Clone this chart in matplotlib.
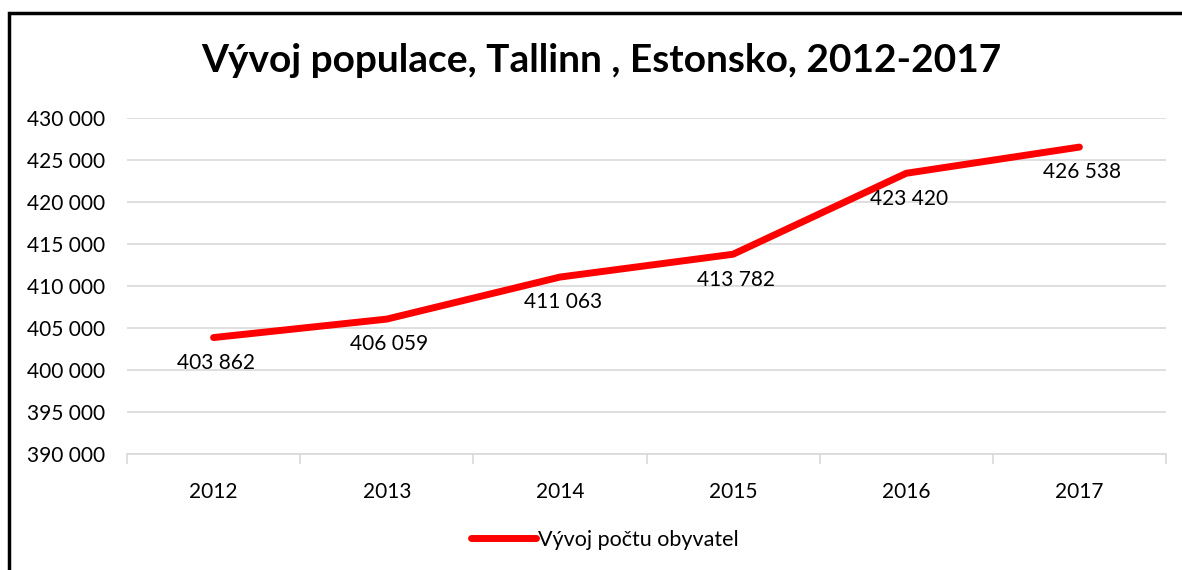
import matplotlib.pyplot as plt
import matplotlib.patches as mpatches
from matplotlib.ticker import FuncFormatter, MultipleLocator

plt.rcParams['font.family'] = ['Lato', 'DejaVu Sans']

# Data
years = ['2012', '2013', '2014', '2015', '2016', '2017']
population = [403862, 406059, 411063, 413782, 423420, 426538]
series_name = 'Vývoj počtu obyvatel'
title = 'Vývoj populace, Tallinn , Estonsko, 2012-2017'

fig = plt.figure(figsize=(11.82, 5.70), dpi=100)
ax = fig.add_axes([127 / 1182, 1 - 454 / 570, (1166 - 127) / 1182, (454 - 118) / 570])

x = range(len(years))
ax.plot(x, population, color='#FF0000', linewidth=5, solid_capstyle='round',
        solid_joinstyle='round', label=series_name, zorder=3)

for xi, v in zip(x, population):
    ax.annotate(f'{v:,}'.replace(',', ' '), (xi, v), xytext=(2, -11),
                textcoords='offset points', ha='center', va='top', fontsize=15, color='#000000')

ax.set_xlim(-0.5, len(years) - 0.5)
ax.set_ylim(390000, 430000)
ax.yaxis.set_major_locator(MultipleLocator(5000))
ax.yaxis.set_major_formatter(FuncFormatter(lambda v, p: f'{int(v):,}'.replace(',', ' ')))
ax.grid(axis='y', color='#D9D9D9', linewidth=1.2)
ax.set_axisbelow(True)
for s in ['top', 'right', 'left']:
    ax.spines[s].set_visible(False)
ax.spines['bottom'].set_color('#D9D9D9')
ax.spines['bottom'].set_linewidth(1.2)

ax.set_xticks([i - 0.5 for i in range(len(years) + 1)], minor=False)
ax.set_xticklabels([])
ax.tick_params(axis='x', which='major', length=7, color='#D9D9D9', width=1.2)
ax.set_xticks(list(x), minor=True)
ax.set_xticklabels(years, minor=True)
ax.tick_params(axis='x', which='minor', length=0, pad=20, labelsize=15)
ax.tick_params(axis='y', length=0, pad=16, labelsize=15)

fig.text(601 / 1182, 1 - 61 / 570, title, ha='center', va='center', fontsize=28,
         fontweight='bold')

fig.legend(loc='center', bbox_to_anchor=(605 / 1182, 1 - 540 / 570), frameon=False,
           fontsize=15.5, handlelength=3.0, handletextpad=0.1)

# outer frame (left and top edges visible)
fig.patches.append(mpatches.Rectangle((9 / 1182, -0.1), 1.2, 1 - 13 / 570 + 0.1,
                                      transform=fig.transFigure, fill=False,
                                      edgecolor='black', linewidth=2.5))

fig.savefig('out.png', dpi=100)
